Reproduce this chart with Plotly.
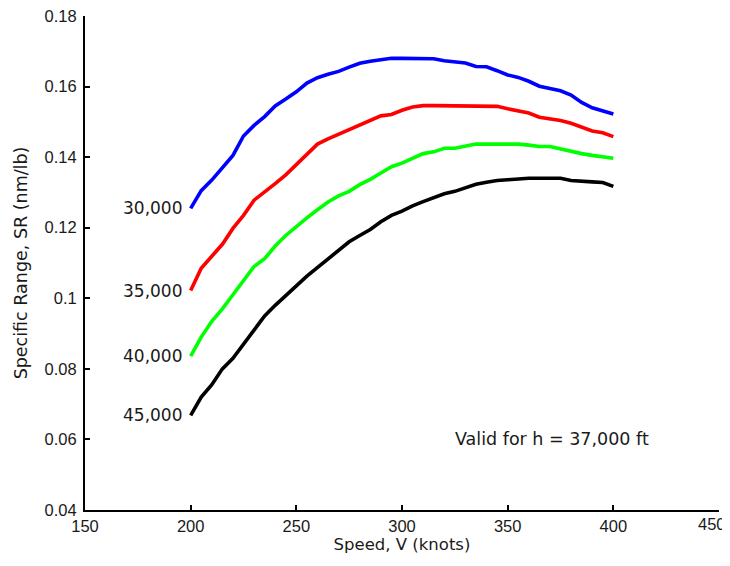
import plotly.graph_objects as go

speed = [200, 205, 210, 215, 220, 225, 230, 235, 240, 245, 250, 255, 260, 265, 270,
         275, 280, 285, 290, 295, 300, 305, 310, 315, 320, 325, 330, 335, 340, 345,
         350, 355, 360, 365, 370, 375, 380, 385, 390, 395, 400]

sr_30000 = [0.1255, 0.1305, 0.1335, 0.1370, 0.1405, 0.1460, 0.1490, 0.1515, 0.1545, 0.1565,
            0.1585, 0.1610, 0.1625, 0.1635, 0.1643, 0.1655, 0.1666, 0.1672, 0.1677, 0.1680,
            0.1680, 0.1680, 0.1680, 0.1679, 0.1673, 0.1669, 0.1667, 0.1657, 0.1656, 0.1645,
            0.1633, 0.1626, 0.1615, 0.1601, 0.1594, 0.1588, 0.1576, 0.1555, 0.1540, 0.1530,
            0.1522]
sr_35000 = [0.1022, 0.1085, 0.1119, 0.1153, 0.1198, 0.1235, 0.1278, 0.1300, 0.1325, 0.1350,
            0.1380, 0.1410, 0.1437, 0.1452, 0.1465, 0.1477, 0.1490, 0.1503, 0.1517, 0.1521,
            0.1533, 0.1542, 0.1546, 0.1546, 0.1546, 0.1546, 0.1546, 0.1546, 0.1546, 0.1544,
            0.1537, 0.1531, 0.1525, 0.1513, 0.1508, 0.1504, 0.1496, 0.1485, 0.1474, 0.1469,
            0.1458]
sr_40000 = [0.0836, 0.0890, 0.0935, 0.0970, 0.1010, 0.1050, 0.1090, 0.1112, 0.1148, 0.1178,
            0.1204, 0.1228, 0.1251, 0.1273, 0.1290, 0.1303, 0.1322, 0.1337, 0.1355, 0.1373,
            0.1383, 0.1397, 0.1410, 0.1415, 0.1425, 0.1425, 0.1430, 0.1437, 0.1437, 0.1437,
            0.1437, 0.1437, 0.1434, 0.1430, 0.1430, 0.1423, 0.1417, 0.1410, 0.1405, 0.1401,
            0.1397]
sr_45000 = [0.0668, 0.0720, 0.0755, 0.0800, 0.0830, 0.0870, 0.0910, 0.0950, 0.0980, 0.1006,
            0.1035, 0.1063, 0.1088, 0.1113, 0.1138, 0.1160, 0.1178, 0.1195, 0.1217, 0.1235,
            0.1247, 0.1262, 0.1274, 0.1286, 0.1296, 0.1303, 0.1313, 0.1323, 0.1329, 0.1334,
            0.1336, 0.1339, 0.1340, 0.1340, 0.1340, 0.1340, 0.1334, 0.1331, 0.1330, 0.1328,
            0.1317]

weight_labels = ["30,000", "35,000", "40,000", "45,000"]
series = [sr_30000, sr_35000, sr_40000, sr_45000]
colors = ["#0000ff", "#ff0000", "#00ff00", "#000000"]

x_ticks = [150, 200, 250, 300, 350, 400, 450]
x_tick_text = ["150", "200", "250", "300", "350", "400", "450"]
y_ticks = [0.04, 0.06, 0.08, 0.1, 0.12, 0.14, 0.16, 0.18]
y_tick_text = ["0.04", "0.06", "0.08", "0.1", "0.12", "0.14", "0.16", "0.18"]

TICKFONT = "Liberation Sans, Arial, sans-serif"
WIDEFONT = "DejaVu Sans, Verdana, sans-serif"
TXT = "#1a1a1a"

fig = go.Figure()
for lbl, vals, col in zip(weight_labels, series, colors):
    fig.add_trace(go.Scatter(x=speed, y=vals, mode="lines", name=lbl,
                             line=dict(color=col, width=3.6), showlegend=False))
    fig.add_annotation(x=speed[0], y=vals[0], text=lbl, showarrow=False,
                       xanchor="right", yanchor="middle", xshift=-7,
                       font=dict(family=WIDEFONT, size=17, color=TXT))

fig.add_annotation(x=0.58, y=0.144, xref="paper", yref="paper",
                   text="Valid for h = 37,000 ft", showarrow=False,
                   xanchor="left", yanchor="middle",
                   font=dict(family=WIDEFONT, size=17.5, color=TXT))

# last x tick label placed so that it stays inside the page, as in the reference
fig.add_annotation(x=x_ticks[-1], y=0, xref="x", yref="paper",
                   text=x_tick_text[-1], showarrow=False,
                   xanchor="right", yanchor="top", xshift=9, yshift=-3,
                   font=dict(family=TICKFONT, size=16.5, color=TXT))

fig.update_layout(
    width=722, height=558,
    margin=dict(l=77, r=11, t=8, b=56),
    paper_bgcolor="white", plot_bgcolor="white",
    font=dict(family=TICKFONT, size=16, color=TXT),
)
fig.update_xaxes(range=[150, 450], tickvals=x_ticks,
                 ticktext=x_tick_text[:-1] + [""],
                 ticks="inside", ticklen=5,
                 tickwidth=2, tickcolor="black", showline=True, linecolor="black",
                 linewidth=2, showgrid=False, zeroline=False, automargin=False,
                 title=dict(text="Speed, V (knots)", standoff=5,
                            font=dict(family=WIDEFONT, size=16.5, color=TXT)),
                 tickfont=dict(family=TICKFONT, size=16.5, color=TXT))
fig.update_yaxes(range=[0.04, 0.18], tickvals=y_ticks, ticktext=y_tick_text,
                 ticks="inside", ticklen=5, ticklabelstandoff=3,
                 tickwidth=2, tickcolor="black", showline=True, linecolor="black",
                 linewidth=2, showgrid=False, zeroline=False, automargin=False,
                 ticklabeloverflow="allow",
                 title=dict(text="Specific Range, SR (nm/lb)", standoff=12,
                            font=dict(family=WIDEFONT, size=17.5, color=TXT)),
                 tickfont=dict(family=TICKFONT, size=16.5, color=TXT))

fig.write_html("out.html")
